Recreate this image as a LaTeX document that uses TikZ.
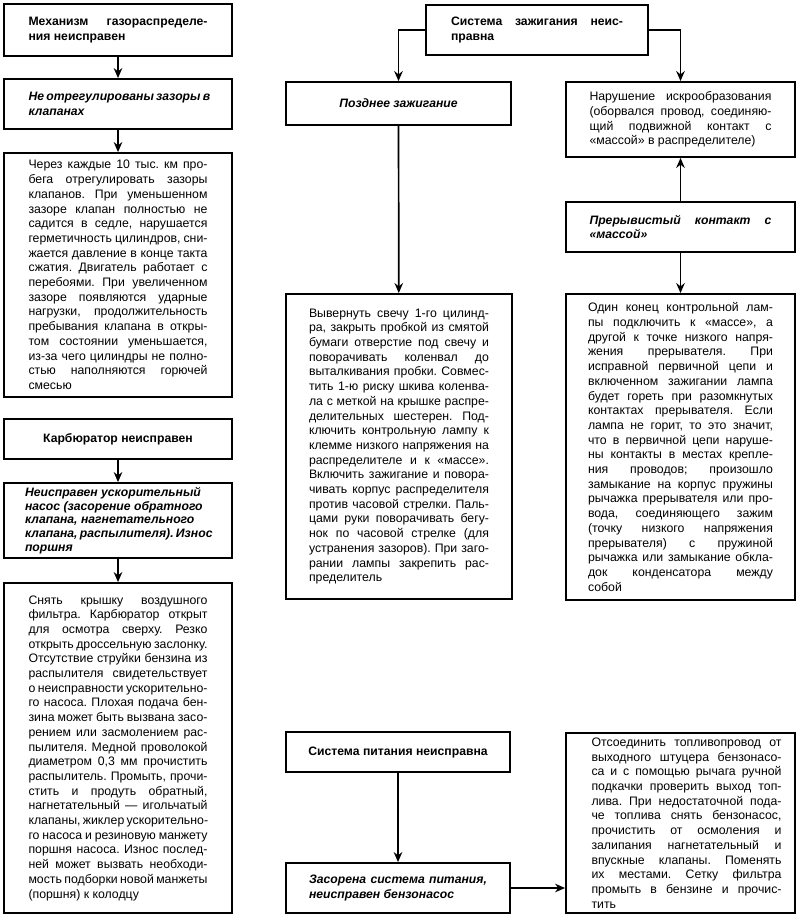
\documentclass[tikz,border=0pt]{standalone}
\usepackage{fontspec}
\setmainfont{Liberation Sans}
\usetikzlibrary{arrows.meta}
\frenchspacing
\newcommand\jl[1]{\hbox to\hsize{#1}}
\newcommand\jlast[1]{\hbox to\hsize{#1\hfil}}
\newcommand\txt[3][14.7pt]{\vbox{\frenchspacing\hsize=#2pt\baselineskip=#1\relax\lineskiplimit=-20pt #3}}
\tikzset{
  box/.style={draw, line width=1.8pt, inner sep=0pt, font=\fontsize{12.3}{14.7}\selectfont},
  conn/.style={line width=1.7pt, -{Stealth[length=10pt,width=8.5pt]}},
  hdr/.style={font=\fontsize{12.2}{14.7}\selectfont\bfseries},
  hdri/.style={font=\fontsize{12.2}{14.7}\selectfont\bfseries\itshape}
}
\begin{document}
\begin{tikzpicture}[x=1pt,y=-1pt]
\useasboundingbox (0,0) rectangle (800,918);
\fill[white] (0,0) rectangle (800,918);

% ---------- left column ----------
\node[box,hdr,minimum width=228,minimum height=52] (A1) at (118,30)
  {\txt{179}{\jl{Механизм газораспределе-}\jlast{ния неисправен}}};
\node[box,hdri,minimum width=228,minimum height=50] (A2) at (118,104)
  {\txt{179}{\jl{Не отрегулированы зазоры в}\jlast{клапанах}}};
\node[box,minimum width=228,minimum height=244] (A3) at (118,275)
  {\txt{179}{%
  \jl{Через каждые 10 тыс. км про-}
  \jl{бега отрегулировать зазоры}
  \jl{клапанов. При уменьшенном}
  \jl{зазоре клапан полностью не}
  \jl{садится в седле, нарушается}
  \jl{герметичность цилиндров, сни-}
  \jl{жается давление в конце такта}
  \jl{сжатия. Двигатель работает с}
  \jl{перебоями. При увеличенном}
  \jl{зазоре появляются ударные}
  \jl{нагрузки, продолжительность}
  \jl{пребывания клапана в откры-}
  \jl{том состоянии уменьшается,}
  \jl{из-за чего цилиндры не полно-}
  \jl{стью наполняются горючей}
  \jlast{смесью}}};

\node[box,hdr,minimum width=228,minimum height=40] (B1) at (118,439)
  {Карбюратор неисправен};
\node[box,hdri,minimum width=228,minimum height=75] (B2) at (118,520.5)
  {\txt[13.6pt]{186}{%
  \jlast{Неисправен ускорительный}
  \jlast{насос (засорение обратного}
  \jlast{клапана, нагнетательного}
  \jlast{клапана, распылителя). Износ}
  \jlast{поршня}}};
\node[box,minimum width=228,minimum height=330] (B3) at (118,748)
  {\txt{179}{%
  \jl{Снять крышку воздушного}
  \jl{фильтра. Карбюратор открыт}
  \jl{для осмотра сверху. Резко}
  \jl{открыть дроссельную заслонку.}
  \jl{Отсутствие струйки бензина из}
  \jl{распылителя свидетельствует}
  \jl{о неисправности ускорительно-}
  \jl{го насоса. Плохая подача бен-}
  \jl{зина может быть вызвана засо-}
  \jl{рением или засмолением рас-}
  \jl{пылителя. Медной проволокой}
  \jl{диаметром 0,3 мм прочистить}
  \jl{распылитель. Промыть, прочи-}
  \jl{стить и продуть обратный,}
  \jl{нагнетательный — игольчатый}
  \jl{клапаны, жиклер ускорительно-}
  \jl{го насоса и резиновую манжету}
  \jl{поршня насоса. Износ послед-}
  \jl{ней может вызвать необходи-}
  \jl{мость подборки новой манжеты}
  \jlast{(поршня) к колодцу}}};

% ---------- ignition ----------
\node[box,hdr,minimum width=222,minimum height=50] (C1) at (537,30)
  {\txt{172}{\jl{Система зажигания неис-}\jlast{правна}}};
\node[box,hdri,minimum width=225,minimum height=43] (C2) at (398.5,103.5)
  {Позднее зажигание};
\node[box,minimum width=229,minimum height=75] (C3) at (680.5,119.5)
  {\txt{182}{%
  \jl{Нарушение искрообразования}
  \jl{(оборвался провод, соединяю-}
  \jl{щий подвижной контакт с}
  \jlast{«массой» в распределителе)}}};
\node[box,minimum width=226,minimum height=305] (C4) at (399,446.5)
  {\txt{180}{%
  \jl{Вывернуть свечу 1-го цилинд-}
  \jl{ра, закрыть пробкой из смятой}
  \jl{бумаги отверстие под свечу и}
  \jl{поворачивать коленвал до}
  \jl{выталкивания пробки. Совмес-}
  \jl{тить 1-ю риску шкива коленва-}
  \jl{ла с меткой на крышке распре-}
  \jl{делительных шестерен. Под-}
  \jl{ключить контрольную лампу к}
  \jl{клемме низкого напряжения на}
  \jl{распределителе и к «массе».}
  \jl{Включить зажигание и повора-}
  \jl{чивать корпус распределителя}
  \jl{против часовой стрелки. Паль-}
  \jl{цами руки поворачивать бегу-}
  \jl{нок по часовой стрелке (для}
  \jl{устранения зазоров). При заго-}
  \jl{рании лампы закрепить рас-}
  \jlast{пределитель}}};
\node[box,hdri,minimum width=229,minimum height=50] (D1) at (680.5,227)
  {\txt{182}{\jl{Прерывистый контакт с}\jlast{«массой»}}};
\node[box,minimum width=229,minimum height=306] (D2) at (680.5,447)
  {\txt{185}{%
  \jl{Один конец контрольной лам-}
  \jl{пы подключить к «массе», а}
  \jl{другой к точке низкого напря-}
  \jl{жения прерывателя. При}
  \jl{исправной первичной цепи и}
  \jl{включенном зажигании лампа}
  \jl{будет гореть при разомкнутых}
  \jl{контактах прерывателя. Если}
  \jl{лампа не горит, то это значит,}
  \jl{что в первичной цепи наруше-}
  \jl{ны контакты в местах крепле-}
  \jl{ния проводов; произошло}
  \jl{замыкание на корпус пружины}
  \jl{рычажка прерывателя или про-}
  \jl{вода, соединяющего зажим}
  \jl{(точку низкого напряжения}
  \jl{прерывателя) с пружиной}
  \jl{рычажка или замыкание обкла-}
  \jl{док конденсатора между}
  \jlast{собой}}};

% ---------- fuel ----------
\node[box,hdr,minimum width=224,minimum height=40] (E1) at (398,752)
  {Система питания неисправна};
\node[box,hdri,minimum width=224,minimum height=50] (E2) at (398,888)
  {\txt{178}{\jl{Засорена система питания,}\jlast{неисправен бензонасос}}};
\node[box,minimum width=229,minimum height=180] (E3) at (680.5,823)
  {\hspace*{12pt}\txt{190}{%
  \jl{Отсоединить топливопровод от}
  \jl{выходного штуцера бензонасо-}
  \jl{са и с помощью рычага ручной}
  \jl{подкачки проверить выход топ-}
  \jl{лива. При недостаточной пода-}
  \jl{че топлива снять бензонасос,}
  \jl{прочистить от осмоления и}
  \jl{залипания нагнетательный и}
  \jl{впускные клапаны. Поменять}
  \jl{их местами. Сетку фильтра}
  \jl{промыть в бензине и прочис-}
  \jlast{тить}}};

% ---------- connectors ----------
\draw[conn] (A1) -- (A2);
\draw[conn] (A2) -- (A3);
\draw[conn] (B1) -- (B2);
\draw[conn] (B2) -- (B3);
\draw[conn] (C1.west) -| (C2.north);
\draw[conn] (C1.east) -| (C3.north);
\draw[conn] (C2) -- (C4);
\draw[conn] (D1) -- (C3);
\draw[conn] (D1) -- (D2);
\draw[conn] (E1) -- (E2);
\draw[conn] (E2.east) -- (E2.east -| E3.west);
\end{tikzpicture}
\end{document}
